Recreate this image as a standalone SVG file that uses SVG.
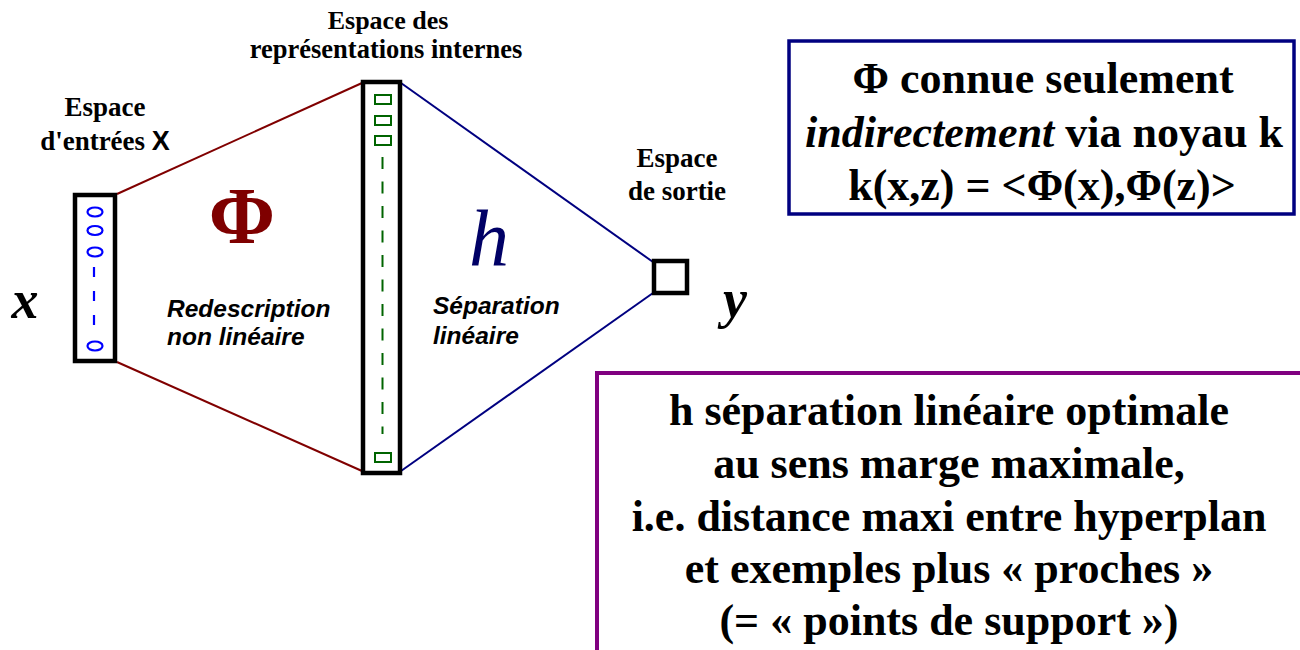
<svg xmlns="http://www.w3.org/2000/svg" width="1300" height="650" viewBox="0 0 1300 650">
<style>
.lbl{font-family:"Liberation Serif",serif;font-weight:bold;fill:#000;text-anchor:middle}
.it{font-family:"Liberation Sans",Arial,sans-serif;font-weight:bold;font-style:italic;fill:#000}
.layer{fill:#fff;stroke:#000;stroke-width:4.5}
.inp{fill:none;stroke:#0000ff;stroke-width:2.2}
.hid{fill:none;stroke:#006400;stroke-width:2}
.big{font-family:"Liberation Serif",serif;font-weight:bold;fill:#000;text-anchor:middle}
</style>
<rect width="1300" height="650" fill="#fff"/>
<g id="connectors">
<line x1="117" y1="194" x2="362" y2="83" stroke="#800000" stroke-width="2"/>
<line x1="117" y1="362" x2="362" y2="471" stroke="#800000" stroke-width="2"/>
<line x1="401" y1="83" x2="653" y2="262" stroke="#000080" stroke-width="2"/>
<line x1="401" y1="471" x2="653" y2="293" stroke="#000080" stroke-width="2"/>
</g>
<g id="input-layer">
<rect class="layer" x="75" y="195" width="40" height="166"/>
<ellipse class="inp" cx="95" cy="212" rx="7.5" ry="4.5"/>
<ellipse class="inp" cx="95" cy="230.5" rx="7.5" ry="4.5"/>
<ellipse class="inp" cx="95" cy="252" rx="7.5" ry="4.5"/>
<line class="inp" x1="94" y1="267" x2="94" y2="328" stroke-dasharray="10 14"/>
<ellipse class="inp" cx="95" cy="346" rx="7.5" ry="4.5"/>
</g>
<g id="hidden-layer">
<rect class="layer" x="363" y="82" width="37" height="391"/>
<rect class="hid" x="375" y="95" width="16" height="9"/>
<rect class="hid" x="375" y="116" width="16" height="9"/>
<rect class="hid" x="375" y="136" width="16" height="9"/>
<line class="hid" x1="382.5" y1="157" x2="382.5" y2="434" stroke-dasharray="12 12.5"/>
<rect class="hid" x="375" y="453" width="16" height="9"/>
</g>
<g id="output-layer">
<rect class="layer" x="654" y="261" width="33" height="32"/>
</g>
<g id="label-input">
<text class="lbl" font-size="27" x="105" y="116">Espace</text>
<text class="lbl" font-size="27" x="105" y="150">d'entrées <tspan font-family="Liberation Sans,sans-serif">X</tspan></text>
</g>
<g id="label-hidden">
<text class="lbl" font-size="26" x="388" y="29">Espace des</text>
<text class="lbl" font-size="26.5" x="386" y="58">représentations internes</text>
</g>
<g id="label-output">
<text class="lbl" font-size="27" x="677" y="167">Espace</text>
<text class="lbl" font-size="27" x="677" y="200">de sortie</text>
</g>
<g id="var-x"><text x="25" y="318" font-family="Liberation Serif,serif" font-weight="bold" font-style="italic" font-size="54" text-anchor="middle">x</text></g>
<g id="var-y"><text x="735" y="317" font-family="Liberation Serif,serif" font-weight="bold" font-style="italic" font-size="54" text-anchor="middle">y</text></g>
<g id="phi">
<text x="242" y="243" font-family="Liberation Serif,serif" font-weight="bold" font-size="80" fill="#7f0000" text-anchor="middle">Φ</text>
<text class="it" font-size="24.5" x="167" y="317">Redescription</text>
<text class="it" font-size="24.5" x="167" y="345">non linéaire</text>
</g>
<g id="h">
<text x="489" y="265" font-family="Liberation Serif,serif" font-style="italic" font-size="80" fill="#000066" text-anchor="middle">h</text>
<text class="it" font-size="24.5" x="433" y="314">Séparation</text>
<text class="it" font-size="24.5" x="433" y="344">linéaire</text>
</g>
<g id="box-kernel">
<rect x="789" y="41" width="505" height="173" fill="#fff" stroke="#000080" stroke-width="3.5"/>
<text class="big" font-size="44" x="1043" y="93">Φ connue seulement</text>
<text class="big" font-size="44" x="1044" y="147"><tspan font-style="italic">indirectement</tspan> via noyau k</text>
<text class="big" font-size="44" x="1042" y="200">k(x,z) = &lt;Φ(x),Φ(z)&gt;</text>
</g>
<g id="box-svm">
<rect x="597" y="373" width="720" height="300" fill="#fff" stroke="#800080" stroke-width="4"/>
<text class="big" font-size="44" x="949" y="425">h séparation linéaire optimale</text>
<text class="big" font-size="44" x="949" y="478">au sens marge maximale,</text>
<text class="big" font-size="44" x="949" y="531">i.e. distance maxi entre hyperplan</text>
<text class="big" font-size="44" x="949" y="583">et exemples plus « proches »</text>
<text class="big" font-size="44" x="949" y="635">(= « points de support »)</text>
</g>
</svg>
